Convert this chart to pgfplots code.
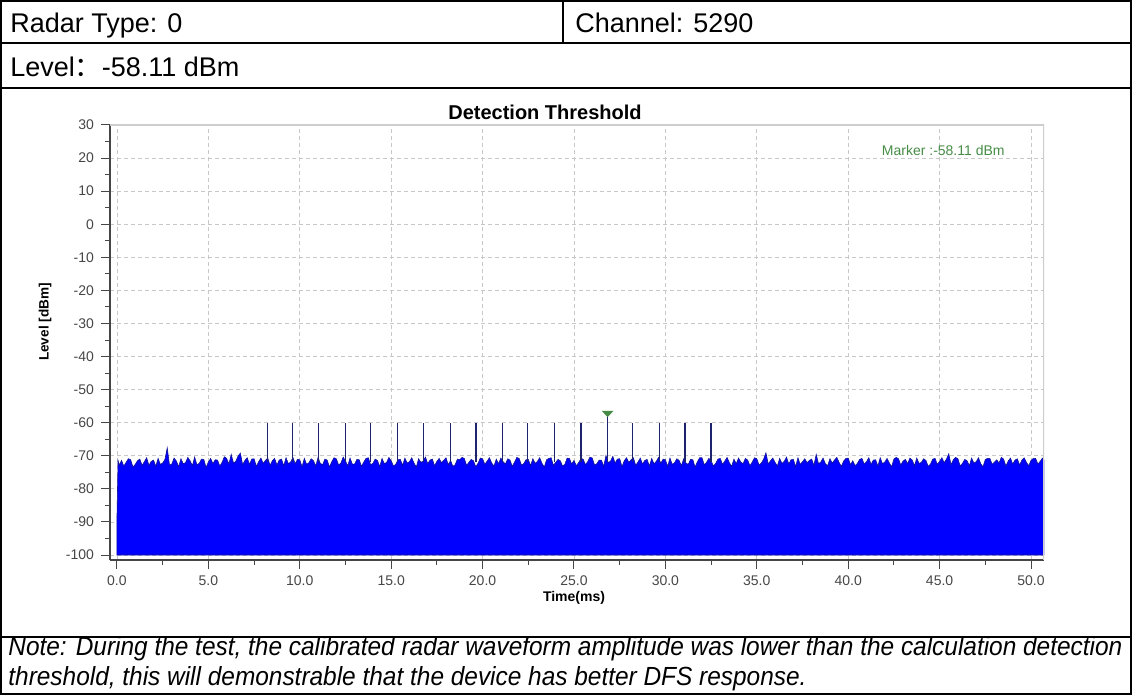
\documentclass[border=0pt]{standalone}
\usepackage{pgfplots}
\pgfplotsset{compat=1.18}
\usepackage{fontspec}
\setmainfont{Liberation Sans}
\newfontfamily\cjk{Noto Sans CJK SC}

\definecolor{noiseblue}{RGB}{0,0,255}
\definecolor{noiseedge}{RGB}{20,20,150}
\definecolor{spikenavy}{RGB}{30,35,110}
\definecolor{markergreen}{RGB}{70,140,70}
\definecolor{gridgray}{RGB}{200,200,200}
\definecolor{framegray}{RGB}{205,205,205}
\definecolor{axisgray}{RGB}{70,70,70}

\begin{document}
\begin{tikzpicture}[x=1pt,y=1pt]
\useasboundingbox (0,0) rectangle (566,347.5);

% report table frame
\draw[line width=1pt] (0.5,0.5) rectangle (565.5,347);
\draw[line width=1pt] (0.5,326) -- (565.5,326);
\draw[line width=1pt] (0.5,303.5) -- (565.5,303.5);
\draw[line width=1pt] (0.5,29) -- (565.5,29);
\draw[line width=1pt] (281.5,326) -- (281.5,347);

\node[anchor=base west, inner sep=0, font=\fontsize{13.5}{16}\selectfont] at (5,331) {Radar Type: 0};
\node[anchor=base west, inner sep=0, font=\fontsize{13.5}{16}\selectfont] at (287.5,331) {Channel: 5290};
\node[anchor=base west, inner sep=0, font=\fontsize{13.5}{16}\selectfont] at (5,309) {Level{\cjk ：}-58.11 dBm};

\node[anchor=base, inner sep=0, font=\bfseries\fontsize{10}{12}\selectfont] at (272.5,287.5) {Detection Threshold};
\node[rotate=90, inner sep=0, font=\bfseries\fontsize{6.8}{8}\selectfont] at (22.5,186.5) {Level [dBm]};
\node[inner sep=0, font=\bfseries\fontsize{7}{8}\selectfont] at (287,48.5) {Time(ms)};

\node[anchor=base west, inner sep=0] at (4,4.5) {\resizebox{557pt}{\totalheight}{\itshape\fontsize{11.8}{13.5}\selectfont
  \vbox{\baselineskip=13.5pt \lineskiplimit=-20pt
  \hbox{Note: During the test, the calibrated radar waveform amplitude was lower than the calculation detection}
  \hbox{threshold, this will demonstrable that the device has better DFS response.}}}};

\begin{axis}[
  at={(55pt,67.5pt)}, anchor=south west,
  width=467pt, height=217.5pt, scale only axis,
  xmin=-0.38, xmax=50.71, ymin=-101.5, ymax=30,
  axis x line=bottom, axis y line=left,
  axis line style={-, color=axisgray, line width=0.6pt},
  xtick={0,5,...,50},
  xticklabels={0.0,5.0,10.0,15.0,20.0,25.0,30.0,35.0,40.0,45.0,50.0},
  ytick={-100,-90,...,30},
  yticklabels={-100,-90,-80,-70,-60,-50,-40,-30,-20,-10,0,10,20,30},
  minor x tick num=1, minor y tick num=1,
  tick align=outside, major tick length=4.5pt, minor tick length=2.3pt,
  tick style={color=axisgray, line width=0.5pt},
  tick label style={font=\fontsize{7}{8}\selectfont, text=axisgray},
  grid=major,
  major grid style={gridgray, dash pattern=on 2pt off 1.5pt, line width=0.4pt},
  unbounded coords=jump,
]
% noise floor, top of the filled trace
\addplot[fill=noiseblue, draw=noiseedge, line width=0.3pt] coordinates {
(0,-89) (0.06,-71.4) (0.125,-72.8)
(0.25,-71.4) (0.375,-73.1) (0.5,-72.0) (0.625,-70.9) (0.75,-71.2) (0.875,-73.4) (1.0,-72.6) (1.125,-71.5)
(1.25,-71.0) (1.375,-72.9) (1.5,-71.8) (1.625,-70.6) (1.75,-72.9) (1.875,-71.7) (2.0,-71.3) (2.125,-73.2)
(2.25,-70.8) (2.375,-72.6) (2.5,-72.2) (2.625,-71.1) (2.75,-67.6) (2.875,-72.8) (3.0,-72.5) (3.125,-70.7)
(3.25,-71.6) (3.375,-73.3) (3.5,-70.9) (3.625,-72.4) (3.75,-72.1) (3.875,-70.5) (4.0,-71.5) (4.125,-73.0)
(4.25,-70.4) (4.375,-72.7) (4.5,-72.3) (4.625,-71.0) (4.75,-71.1) (4.875,-73.5) (5.0,-71.9) (5.125,-70.8)
(5.25,-72.4) (5.375,-71.2) (5.5,-71.3) (5.625,-73.1) (5.75,-72.0) (5.875,-70.3) (6.0,-70.8) (6.125,-72.5)
(6.25,-69.6) (6.375,-72.2) (6.5,-71.7) (6.625,-70.1) (6.75,-69.2) (6.875,-72.7) (7.0,-71.4) (7.125,-70.6)
(7.25,-72.6) (7.375,-71.0) (7.5,-70.9) (7.625,-73.2) (7.75,-71.8) (7.875,-70.7) (8.0,-72.3) (8.125,-71.4)
(8.25,-70.7) (8.375,-72.9) (8.5,-71.5) (8.625,-70.8) (8.75,-72.8) (8.875,-71.3) (9.0,-71.0) (9.125,-73.0)
(9.25,-70.6) (9.375,-72.4) (9.5,-71.9) (9.625,-70.5) (9.75,-72.4) (9.875,-71.1) (10.0,-71.2) (10.125,-73.3)
(10.25,-70.8) (10.375,-72.6) (10.5,-72.1) (10.625,-70.9) (10.75,-71.5) (10.875,-73.1) (11.0,-70.5) (11.125,-72.3)
(11.25,-72.7) (11.375,-71.0) (11.5,-71.3) (11.625,-73.4) (11.75,-71.8) (11.875,-70.6) (12.0,-70.9) (12.125,-72.8)
(12.25,-72.2) (12.375,-70.4) (12.5,-71.6) (12.625,-73.0) (12.75,-70.7) (12.875,-72.5) (13.0,-72.5) (13.125,-71.1)
(13.25,-71.2) (13.375,-73.2) (13.5,-71.9) (13.625,-70.8) (13.75,-70.6) (13.875,-72.7) (14.0,-72.3) (14.125,-71.0)
(14.25,-71.4) (14.375,-73.3) (14.5,-70.8) (14.625,-72.4) (14.75,-72.0) (14.875,-70.5) (15.0,-71.5) (15.125,-73.1)
(15.25,-72.6) (15.375,-71.2) (15.5,-71.1) (15.625,-72.9) (15.75,-70.7) (15.875,-72.2) (16.0,-71.8) (16.125,-70.6)
(16.25,-72.2) (16.375,-73.4) (16.5,-70.9) (16.625,-72.0) (16.75,-71.6) (16.875,-70.4) (17.0,-72.4) (17.125,-71.3)
(17.25,-71.0) (17.375,-73.0) (17.5,-71.7) (17.625,-70.8) (17.75,-72.1) (17.875,-71.4) (18.0,-70.6) (18.125,-72.7)
(18.25,-71.4) (18.375,-73.2) (18.5,-72.7) (18.625,-71.0) (18.75,-71.2) (18.875,-70.5) (19.0,-70.8) (19.125,-72.9)
(19.25,-72.0) (19.375,-71.1) (19.5,-71.5) (19.625,-73.3) (19.75,-72.3) (19.875,-70.7) (20.0,-70.9) (20.125,-72.6)
(20.25,-71.6) (20.375,-70.6) (20.5,-72.2) (20.625,-73.1) (20.75,-71.0) (20.875,-72.4) (21.0,-70.7) (21.125,-71.8)
(21.25,-72.5) (21.375,-70.9) (21.5,-71.3) (21.625,-73.2) (21.75,-71.9) (21.875,-70.5) (22.0,-70.8) (22.125,-72.8)
(22.25,-72.4) (22.375,-71.2) (22.5,-71.1) (22.625,-73.0) (22.75,-70.9) (22.875,-72.3) (23.0,-71.7) (23.125,-70.6)
(23.25,-72.3) (23.375,-73.4) (23.5,-71.2) (23.625,-70.8) (23.75,-70.6) (23.875,-72.9) (24.0,-72.0) (24.125,-71.1)
(24.25,-71.5) (24.375,-73.1) (24.5,-72.6) (24.625,-70.7) (24.75,-70.8) (24.875,-72.5) (25.0,-71.4) (25.125,-73.0)
(25.25,-72.1) (25.375,-70.9) (25.5,-71.0) (25.625,-72.7) (25.75,-71.8) (25.875,-70.4) (26.0,-70.7) (26.125,-72.8)
(26.25,-72.4) (26.375,-71.3) (26.5,-71.3) (26.625,-73.2) (26.75,-69.9) (26.875,-72.1) (27.0,-71.6) (27.125,-70.2)
(27.25,-72.2) (27.375,-71.0) (27.5,-70.9) (27.625,-73.3) (27.75,-71.5) (27.875,-70.6) (28.0,-72.0) (28.125,-71.2)
(28.25,-70.6) (28.375,-72.9) (28.5,-71.9) (28.625,-70.7) (28.75,-72.5) (28.875,-71.4) (29.0,-71.1) (29.125,-73.1)
(29.25,-70.8) (29.375,-72.4) (29.5,-71.7) (29.625,-70.5) (29.75,-72.3) (29.875,-71.0) (30.0,-71.2) (30.125,-73.2)
(30.25,-70.7) (30.375,-72.6) (30.5,-72.1) (30.625,-70.9) (30.75,-71.4) (30.875,-73.0) (31.0,-70.9) (31.125,-72.2)
(31.25,-72.6) (31.375,-71.1) (31.5,-71.2) (31.625,-73.4) (31.75,-71.8) (31.875,-70.6) (32.0,-70.6) (32.125,-72.7)
(32.25,-72.0) (32.375,-70.8) (32.5,-71.5) (32.625,-73.1) (32.75,-72.3) (32.875,-71.0) (33.0,-70.8) (33.125,-72.6)
(33.25,-71.6) (33.375,-70.5) (33.5,-72.1) (33.625,-73.2) (33.75,-71.0) (33.875,-72.4) (34.0,-70.7) (34.125,-71.9)
(34.25,-72.4) (34.375,-70.8) (34.5,-71.3) (34.625,-73.0) (34.75,-71.9) (34.875,-70.6) (35.0,-70.9) (35.125,-72.8)
(35.25,-72.2) (35.375,-71.0) (35.5,-69.1) (35.625,-72.5) (35.75,-71.5) (35.875,-70.7) (36.0,-72.0) (36.125,-73.1)
(36.25,-70.8) (36.375,-72.3) (36.5,-71.7) (36.625,-70.4) (36.75,-72.5) (36.875,-71.2) (37.0,-71.1) (37.125,-73.3)
(37.25,-70.6) (37.375,-72.6) (37.5,-71.8) (37.625,-70.9) (37.75,-72.1) (37.875,-71.4) (38.0,-71.0) (38.125,-72.9)
(38.25,-69.6) (38.375,-72.4) (38.5,-71.9) (38.625,-70.7) (38.75,-72.4) (38.875,-73.0) (39.0,-70.9) (39.125,-72.2)
(39.25,-71.3) (39.375,-70.5) (39.5,-72.0) (39.625,-73.2) (39.75,-71.6) (39.875,-70.8) (40.0,-70.7) (40.125,-72.7)
(40.25,-71.5) (40.375,-73.0) (40.5,-72.3) (40.625,-71.1) (40.75,-70.8) (40.875,-72.5) (41.0,-71.8) (41.125,-70.6)
(41.25,-72.6) (41.375,-71.3) (41.5,-71.2) (41.625,-73.1) (41.75,-70.6) (41.875,-72.4) (42.0,-71.9) (42.125,-70.8)
(42.25,-72.2) (42.375,-73.3) (42.5,-71.0) (42.625,-70.5) (42.75,-70.9) (42.875,-72.8) (43.0,-71.6) (43.125,-71.1)
(43.25,-72.4) (43.375,-70.7) (43.5,-71.3) (43.625,-73.0) (43.75,-70.7) (43.875,-72.3) (44.0,-72.0) (44.125,-70.9)
(44.25,-71.4) (44.375,-73.2) (44.5,-72.5) (44.625,-71.0) (44.75,-70.8) (44.875,-72.6) (45.0,-71.7) (45.125,-70.6)
(45.25,-72.1) (45.375,-71.0) (45.5,-69.4) (45.625,-72.7) (45.75,-71.2) (45.875,-70.5) (46.0,-70.9) (46.125,-73.1)
(46.25,-72.3) (46.375,-71.1) (46.5,-71.5) (46.625,-73.0) (46.75,-70.7) (46.875,-72.2) (47.0,-71.8) (47.125,-70.6)
(47.25,-72.4) (47.375,-73.3) (47.5,-71.1) (47.625,-70.8) (47.75,-70.8) (47.875,-72.6) (48.0,-71.9) (48.125,-71.2)
(48.25,-72.2) (48.375,-70.5) (48.5,-71.0) (48.625,-73.1) (48.75,-71.6) (48.875,-70.7) (49.0,-72.5) (49.125,-71.3)
(49.25,-70.9) (49.375,-72.8) (49.5,-71.3) (49.625,-70.6) (49.75,-72.0) (49.875,-73.0) (50.0,-71.4) (50.125,-70.8)
(50.25,-70.8) (50.375,-72.5) (50.5,-71.7) (50.625,-70.7) (50.71,-71.2)
} |- (axis cs:0,-100) -- cycle;

% radar pulses
\addplot[spikenavy, line width=0.7pt] coordinates {
  (8.22,-72) (8.22,-60) (8.22,nan)
  (9.59,-72) (9.59,-60) (9.59,nan)
  (11.03,-72) (11.03,-60) (11.03,nan)
  (12.51,-72) (12.51,-60) (12.51,nan)
  (13.88,-72) (13.88,-60) (13.88,nan)
  (15.33,-72) (15.33,-60) (15.33,nan)
  (16.78,-72) (16.78,-60) (16.78,nan)
  (18.23,-72) (18.23,-60) (18.23,nan)
  (19.64,-72) (19.64,-60) (19.64,nan)
  (21.08,-72) (21.08,-60) (21.08,nan)
  (22.47,-72) (22.47,-60) (22.47,nan)
  (23.92,-72) (23.92,-60) (23.92,nan)
  (25.38,-72) (25.38,-60) (25.38,nan)
  (26.84,-72) (26.84,-58.11) (26.84,nan)
  (28.21,-72) (28.21,-60) (28.21,nan)
  (29.67,-72) (29.67,-60) (29.67,nan)
  (31.07,-72) (31.07,-60) (31.07,nan)
  (32.49,-72) (32.49,-60)
};

% marker
\addplot[only marks, mark=triangle*, mark size=2.9pt,
  mark options={yscale=-0.6, fill=markergreen, draw=markergreen}]
  coordinates {(26.84,-57.05)};

\draw[framegray, line width=0.6pt] (rel axis cs:0,1) -- (rel axis cs:1,1) -- (rel axis cs:1,0);
\node[font=\fontsize{7}{8}\selectfont, text=markergreen] at (axis cs:45.2,22.4) {Marker :-58.11 dBm};
\end{axis}
\end{tikzpicture}
\end{document}
